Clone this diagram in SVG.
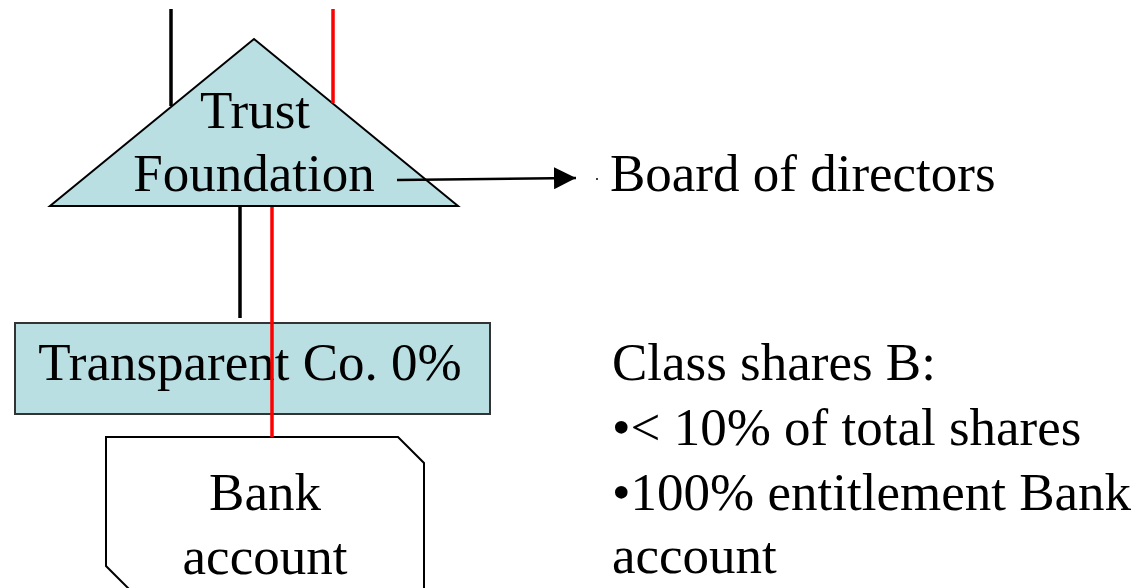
<svg xmlns="http://www.w3.org/2000/svg" width="1147" height="588" viewBox="0 0 1147 588">
<defs>
<style>
.t{font-family:"Liberation Serif","Times New Roman",serif;font-size:53px;fill:#000}
.m{text-anchor:middle}
.blk{stroke:#000;stroke-width:3.5;fill:none}
.red{stroke:#ff0000;stroke-width:3.5;fill:none}
.arr{stroke:#000;stroke-width:2.5;fill:none}
.shape{fill:#b9dfe3;stroke:#000;stroke-width:2}
</style>
<marker id="ah" markerWidth="23" markerHeight="22" refX="22" refY="11" orient="auto" markerUnits="userSpaceOnUse">
<path d="M0,0 L22,11 L0,22 Z" fill="#000"/>
</marker>
</defs>
<rect width="1147" height="588" fill="#fff"/>
<g id="trust">
<path class="shape" d="M254,39 L458,206 L50,206 Z"/>
<text class="t m" x="255" y="128">Trust</text>
<text class="t m" x="254" y="191">Foundation</text>
</g>
<g id="transparent">
<rect x="15" y="323" width="475" height="91" fill="#b9dfe3" stroke="#333" stroke-width="2"/>
<text class="t m" x="250" y="380">Transparent Co. 0%</text>
</g>
<g id="bank">
<path d="M106,437 H398 L424,463 V620 H160 L106,566 Z" fill="#fff" stroke="#000" stroke-width="2"/>
<text class="t m" x="265" y="510">Bank</text>
<text class="t m" x="265" y="574">account</text>
</g>
<g id="board">
<text class="t" x="610" y="191">Board of directors</text>
<circle cx="597" cy="179" r="1" fill="#000"/>
</g>
<g id="classB">
<text class="t" x="612" y="380">Class shares B:</text>
<text class="t" x="612" y="445">•&lt; 10% of total shares</text>
<text class="t" x="612" y="510">•100% entitlement Bank</text>
<text class="t" x="612" y="573">account</text>
</g>
<g id="connectors">
<line class="blk" x1="171" y1="9" x2="171" y2="106"/>
<line class="red" x1="333" y1="9" x2="333" y2="103"/>
<line class="blk" x1="240" y1="207" x2="240" y2="318"/>
<line class="red" x1="272" y1="207" x2="272" y2="437"/>
<line class="arr" x1="397" y1="180" x2="576" y2="178" marker-end="url(#ah)"/>
</g>
</svg>
